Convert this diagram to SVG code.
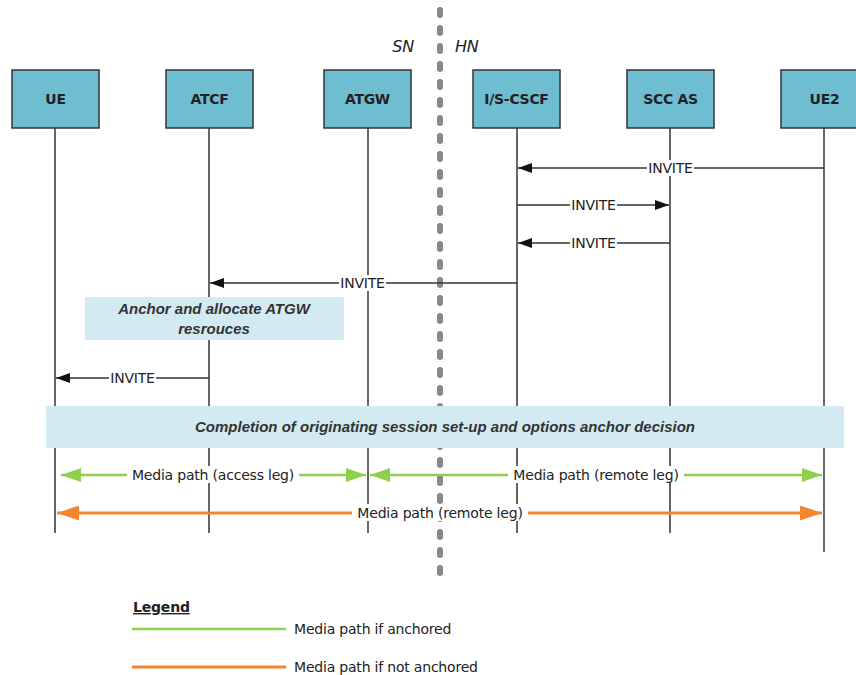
<svg xmlns="http://www.w3.org/2000/svg" width="856" height="675" viewBox="0 0 856 675">
<style>
.box{fill:#6fbdd1;stroke:#333;stroke-width:1.5}
.nl{font-family:"DejaVu Sans",Arial,sans-serif;font-size:14px;font-weight:bold;fill:#222;text-anchor:middle;letter-spacing:-0.3px}
.life{stroke:#333;stroke-width:1.5}
.msg{stroke:#333;stroke-width:1.5;fill:none}
.lbl{font-family:"DejaVu Sans",Arial,sans-serif;font-size:14px;fill:#222;text-anchor:middle;letter-spacing:-0.2px}
.it{font-family:"Liberation Sans",Arial,sans-serif;font-size:15px;font-style:italic;font-weight:bold;fill:#333;text-anchor:middle}
.bg{fill:#fff}
.note{fill:#d3eaf2}
.g{stroke:#8fd14f;stroke-width:2.5;fill:none}
.o{stroke:#f4852e;stroke-width:3;fill:none}
</style>
<defs>
<marker id="ah" viewBox="0 0 14 10" refX="14" refY="5" markerWidth="14" markerHeight="10" markerUnits="userSpaceOnUse" orient="auto-start-reverse"><path d="M0,0L14,5L0,10z" fill="#111"/></marker>
<marker id="ag" viewBox="0 0 20 14" refX="20" refY="7" markerWidth="20" markerHeight="14" markerUnits="userSpaceOnUse" orient="auto-start-reverse"><path d="M0,0L20,7L0,14z" fill="#8fd14f"/></marker>
<marker id="ao" viewBox="0 0 22 15" refX="22" refY="7.5" markerWidth="22" markerHeight="15" markerUnits="userSpaceOnUse" orient="auto-start-reverse"><path d="M0,0L22,7.5L0,15z" fill="#f4852e"/></marker>
</defs>
<rect width="856" height="675" fill="#fff"/>
<g id="lifelines">
<line class="life" x1="55" y1="128" x2="55" y2="533"/>
<line class="life" x1="209" y1="128" x2="209" y2="533"/>
<line class="life" x1="368" y1="128" x2="368" y2="533"/>
<line class="life" x1="517" y1="128" x2="517" y2="533"/>
<line class="life" x1="670" y1="128" x2="670" y2="533"/>
<line class="life" x1="824" y1="128" x2="824" y2="552"/>
</g>
<g id="divider">
<line x1="440" y1="10" x2="440" y2="580" stroke="#888" stroke-width="6" stroke-linecap="round" stroke-dasharray="5 13"/>
<text x="414" y="52" class="lbl" style="font-size:16px;font-style:italic;text-anchor:end">SN</text>
<text x="455" y="52" class="lbl" style="font-size:16px;font-style:italic;text-anchor:start">HN</text>
</g>
<g id="UE"><rect class="box" x="12" y="70" width="87" height="58"/><text class="nl" x="55.5" y="104">UE</text></g>
<g id="ATCF"><rect class="box" x="166" y="70" width="87" height="58"/><text class="nl" x="209.5" y="104">ATCF</text></g>
<g id="ATGW"><rect class="box" x="324" y="70" width="87" height="58"/><text class="nl" x="367.5" y="104">ATGW</text></g>
<g id="CSCF"><rect class="box" x="473" y="70" width="87" height="58"/><text class="nl" x="516.5" y="104">I/S-CSCF</text></g>
<g id="SCCAS"><rect class="box" x="627" y="70" width="87" height="58"/><text class="nl" x="670.5" y="104">SCC AS</text></g>
<g id="UE2"><rect class="box" x="781" y="70" width="87" height="58"/><text class="nl" x="824.5" y="104">UE2</text></g>
<g id="notes">
<rect class="note" x="85" y="297" width="259" height="43"/>
<text class="it" x="214" y="314">Anchor and allocate ATGW</text>
<text class="it" x="214" y="334">resrouces</text>
<rect class="note" x="46" y="406" width="798" height="42"/>
<text class="it" x="445" y="432">Completion of originating session set-up and options anchor decision</text>
</g>
<g id="connectors">
<line class="msg" x1="824" y1="168" x2="518" y2="168" marker-end="url(#ah)"/>
<rect class="bg" x="647" y="160" width="47" height="16"/><text class="lbl" x="670.5" y="173">INVITE</text>
<line class="msg" x1="517" y1="205" x2="669" y2="205" marker-end="url(#ah)"/>
<rect class="bg" x="570" y="197" width="47" height="16"/><text class="lbl" x="593.5" y="210">INVITE</text>
<line class="msg" x1="670" y1="243" x2="518" y2="243" marker-end="url(#ah)"/>
<rect class="bg" x="570" y="235" width="47" height="16"/><text class="lbl" x="593.5" y="248">INVITE</text>
<line class="msg" x1="517" y1="283" x2="210" y2="283" marker-end="url(#ah)"/>
<rect class="bg" x="339" y="275" width="47" height="16"/><text class="lbl" x="362.5" y="288">INVITE</text>
<line class="msg" x1="209" y1="378" x2="56" y2="378" marker-end="url(#ah)"/>
<rect class="bg" x="109" y="370" width="47" height="16"/><text class="lbl" x="132.5" y="383">INVITE</text>
<line class="g" x1="61" y1="475" x2="366" y2="475" marker-start="url(#ag)" marker-end="url(#ag)"/>
<rect class="bg" x="127" y="466" width="172" height="17"/><text class="lbl" x="213" y="480">Media path (access leg)</text>
<line class="g" x1="370" y1="475" x2="822" y2="475" marker-start="url(#ag)" marker-end="url(#ag)"/>
<rect class="bg" x="508" y="466" width="176" height="17"/><text class="lbl" x="596" y="480">Media path (remote leg)</text>
<line class="o" x1="57" y1="513" x2="822" y2="513" marker-start="url(#ao)" marker-end="url(#ao)"/>
<rect class="bg" x="352" y="504" width="176" height="17"/><text class="lbl" x="440" y="518">Media path (remote leg)</text>
</g>
<g id="legend">
<text x="133" y="612" class="lbl" style="text-anchor:start;font-weight:bold;text-decoration:underline">Legend</text>
<line class="g" x1="132" y1="629" x2="286" y2="629"/>
<text x="294" y="634" class="lbl" style="text-anchor:start">Media path if anchored</text>
<line class="o" x1="132" y1="667" x2="286" y2="667"/>
<text x="294" y="672" class="lbl" style="text-anchor:start">Media path if not anchored</text>
</g>
</svg>
